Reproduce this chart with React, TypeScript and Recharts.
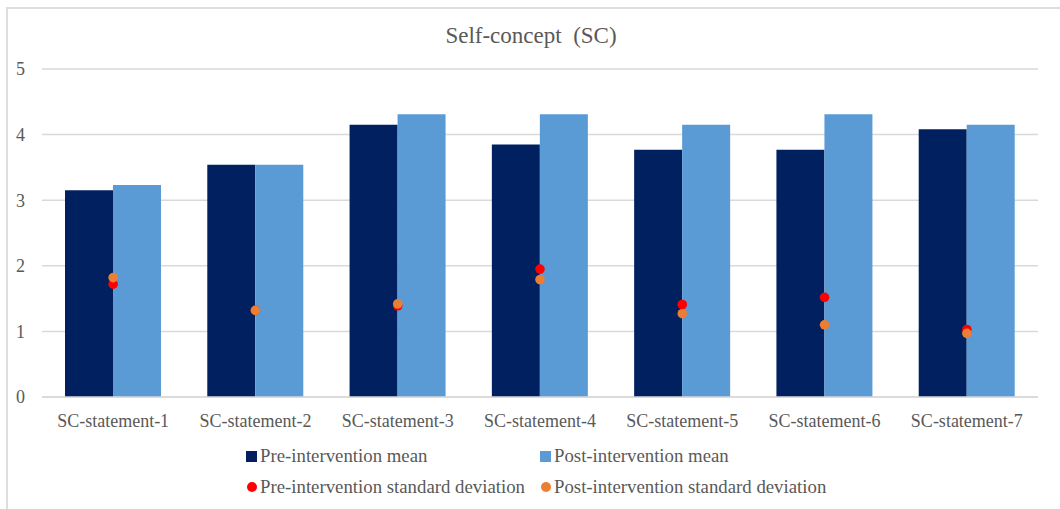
import React from "react";
import {
  ComposedChart,
  Bar,
  Scatter,
  XAxis,
  YAxis,
  CartesianGrid,
  Legend,
} from "recharts";

const statements = [
  "SC-statement-1",
  "SC-statement-2",
  "SC-statement-3",
  "SC-statement-4",
  "SC-statement-5",
  "SC-statement-6",
  "SC-statement-7",
];
const preMean = [3.15, 3.54, 4.15, 3.85, 3.77, 3.77, 4.08];
const postMean = [3.23, 3.54, 4.31, 4.31, 4.15, 4.31, 4.15];
const preSd = [1.72, 1.32, 1.39, 1.95, 1.41, 1.52, 1.03];
const postSd = [1.82, 1.32, 1.42, 1.79, 1.27, 1.1, 0.97];
const yTicks = [0, 1, 2, 3, 4, 5];

const seriesNames = [
  "Pre-intervention mean",
  "Post-intervention mean",
  "Pre-intervention standard deviation",
  "Post-intervention standard deviation",
];

const data = statements.map((name, i) => ({
  name,
  preMean: preMean[i],
  postMean: postMean[i],
  preSd: preSd[i],
  postSd: postSd[i],
}));

const FONT = '"Liberation Serif", "Times New Roman", serif';
const TEXT = "#595959";
const GRID = "#d9d9d9";

const Dot = (color: string) => (props: any) =>
  <circle cx={props.cx} cy={props.cy} r={4.8} fill={color} />;

// two-row legend: means on top, standard deviations below
const renderLegend = (props: any) => {
  const items = [...(props.payload || [])].sort(
    (a: any, b: any) => seriesNames.indexOf(a.value) - seriesNames.indexOf(b.value)
  );
  return (
    <div
      style={{
        display: "grid",
        gridTemplateColumns: "294px 294px",
        gridAutoRows: "30.6px",
        fontFamily: FONT,
        fontSize: 18.8,
        color: TEXT,
      }}
    >
      {items.map((item: any) => (
        <div key={item.value} style={{ display: "flex", alignItems: "center", whiteSpace: "nowrap" }}>
          <span style={{ width: 11, height: 11, display: "inline-flex", alignItems: "center", justifyContent: "center", marginRight: 3 }}>
            <span
              style={{
                display: "block",
                flex: "none",
                width: item.type === "circle" ? 10 : 11,
                height: item.type === "circle" ? 10 : 11,
                borderRadius: item.type === "circle" ? "50%" : 0,
                background: item.color,
              }}
            />
          </span>
          {item.value}
        </div>
      ))}
    </div>
  );
};

export default function App() {
  return (
    <div style={{ position: "relative", width: 1060, height: 509, overflow: "hidden", background: "#fff" }}>
      <style>{"body{margin:0}"}</style>
      <div
        style={{
          position: "absolute",
          left: 6,
          top: 7,
          width: 1200,
          height: 700,
          border: "2px solid #dedede",
          boxSizing: "border-box",
        }}
      />
      <div style={{ position: "absolute", left: 0, top: 0 }}>
        <ComposedChart
          width={1060}
          height={509}
          data={data}
          margin={{ top: 69, right: 22, bottom: 65, left: 0 }}
          barGap={0}
          barSize={48}
        >
          <text
            x={531}
            y={43}
            textAnchor="middle"
            fill={TEXT}
            style={{ fontFamily: FONT, fontSize: 23, whiteSpace: "pre" }}
          >
            {"Self-concept  (SC)"}
          </text>
          <CartesianGrid vertical={false} stroke={GRID} strokeWidth={1.5} />
          <XAxis
            dataKey="name"
            height={47}
            tickLine={false}
            axisLine={{ stroke: GRID, strokeWidth: 1.5 }}
            tickMargin={11}
            tick={{ fill: TEXT, fontSize: 18, fontFamily: FONT }}
          />
          <YAxis
            width={42}
            domain={[0, 5]}
            ticks={yTicks}
            tickLine={false}
            axisLine={false}
            tickMargin={11}
            tick={{ fill: TEXT, fontSize: 18, fontFamily: FONT }}
          />
          <Legend
            layout="horizontal"
            verticalAlign="middle"
            align="center"
            content={renderLegend}
            wrapperStyle={{ top: 441, left: 246, width: 620 }}
          />
          <Bar dataKey="preMean" name={seriesNames[0]} fill="#002060" legendType="square" isAnimationActive={false} />
          <Bar dataKey="postMean" name={seriesNames[1]} fill="#5b9bd5" legendType="square" isAnimationActive={false} />
          <Scatter dataKey="preSd" name={seriesNames[2]} fill="#ff0000" legendType="circle" shape={Dot("#ff0000")} isAnimationActive={false} />
          <Scatter dataKey="postSd" name={seriesNames[3]} fill="#ed7d31" legendType="circle" shape={Dot("#ed7d31")} isAnimationActive={false} />
        </ComposedChart>
      </div>
    </div>
  );
}
